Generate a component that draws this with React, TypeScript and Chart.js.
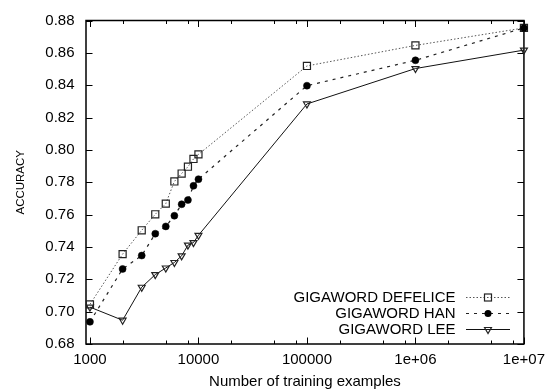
import React, { useEffect, useRef } from 'react';
import { Chart, registerables } from 'chart.js';

Chart.register(...registerables);

// ---- data ----
const trainingSizes = [1000, 2000, 3000, 4000, 5000, 6000, 7000, 8000, 9000, 10000, 100000, 1000000, 10000000];
const defeliceAcc = [0.7045, 0.7356, 0.7503, 0.7602, 0.7668, 0.7805, 0.7854, 0.7896, 0.7944, 0.7972, 0.8519, 0.8646, 0.8754];
const hanAcc = [0.6937, 0.7264, 0.7347, 0.7482, 0.7527, 0.7593, 0.7664, 0.769, 0.7778, 0.7819, 0.8397, 0.8554, 0.8754];
const leeAcc = [0.7028, 0.6947, 0.7151, 0.7229, 0.727, 0.7304, 0.7345, 0.7411, 0.7427, 0.7472, 0.8284, 0.8503, 0.8617];
const seriesNames = ['GIGAWORD DEFELICE', 'GIGAWORD HAN', 'GIGAWORD LEE'];
const xMajorTicks = [1000, 10000, 100000, 1000000, 10000000];
const xTickLabels = ['1000', '10000', '100000', '1e+06', '1e+07'];
const xMinorMultipliers = [2, 5, 8];
const yTicks = [0.68, 0.7, 0.72, 0.74, 0.76, 0.78, 0.8, 0.82, 0.84, 0.86, 0.88];
const xTitle = 'Number of training examples';
const yTitle = 'ACCURACY';

const FONT = '"Liberation Sans", Arial, Helvetica, sans-serif';

type Kind = 'square' | 'circle' | 'tri';

function drawMarker(ctx: CanvasRenderingContext2D, kind: Kind, x: number, y: number) {
  ctx.save();
  ctx.setLineDash([]);
  if (kind === 'square') {
    ctx.strokeStyle = '#222';
    ctx.lineWidth = 1.2;
    ctx.strokeRect(x - 3.5, y - 3.5, 7, 7);
  } else if (kind === 'circle') {
    ctx.fillStyle = '#000';
    ctx.beginPath();
    ctx.arc(x, y, 3.5, 0, Math.PI * 2);
    ctx.fill();
  } else {
    const r = 4;
    ctx.strokeStyle = '#222';
    ctx.lineWidth = 1.2;
    ctx.beginPath();
    ctx.moveTo(x, y + r);
    ctx.lineTo(x - r * 0.866, y - r * 0.5);
    ctx.lineTo(x + r * 0.866, y - r * 0.5);
    ctx.closePath();
    ctx.stroke();
  }
  ctx.restore();
}

const framePlugin = {
  id: 'gnuplotFrame',
  beforeDatasetsDraw(chart: any) {
    const { ctx, chartArea } = chart;
    const { left, right, top, bottom } = chartArea;
    const xs = chart.scales.x;
    const ys = chart.scales.y;
    ctx.save();
    ctx.strokeStyle = '#000';
    ctx.lineWidth = 1;
    ctx.beginPath();
    // x ticks (major + minor), bottom and top, inward
    xMajorTicks.forEach((v) => {
      const px = Math.round(xs.getPixelForValue(v)) + 0.5;
      ctx.moveTo(px, bottom);
      ctx.lineTo(px, bottom - 6.5);
      ctx.moveTo(px, top);
      ctx.lineTo(px, top + 6.5);
      if (v < 10000000) {
        xMinorMultipliers.forEach((m) => {
          const p = Math.round(xs.getPixelForValue(v * m)) + 0.5;
          if (p > right) return;
          ctx.moveTo(p, bottom);
          ctx.lineTo(p, bottom - 3.5);
          ctx.moveTo(p, top);
          ctx.lineTo(p, top + 3.5);
        });
      }
    });
    yTicks.forEach((v) => {
      const py = Math.round(ys.getPixelForValue(v)) + 0.5;
      ctx.moveTo(left, py);
      ctx.lineTo(left + 6.5, py);
      ctx.moveTo(right, py);
      ctx.lineTo(right - 6.5, py);
    });
    ctx.stroke();
    ctx.lineWidth = 1.5;
    ctx.strokeRect(left, top, right - left, bottom - top);
    ctx.restore();
  },
  afterDatasetsDraw(chart: any) {
    const { ctx } = chart;
    const rows = [297.5, 313.5, 329.5];
    const kinds: Kind[] = ['square', 'circle', 'tri'];
    const textRight = 455.5;
    const lineX0 = 466;
    const lineX1 = 510;
    const markX = 488;
    ctx.save();
    ctx.font = `15px ${FONT}`;
    ctx.fillStyle = '#000';
    ctx.textAlign = 'right';
    ctx.textBaseline = 'middle';
    chart.data.datasets.forEach((ds: any, i: number) => {
      const y = rows[i];
      ctx.fillText(seriesNames[i], textRight, y + 0.5);
      ctx.save();
      ctx.strokeStyle = ds.borderColor;
      ctx.lineWidth = ds.borderWidth;
      ctx.setLineDash(ds.borderDash || []);
      ctx.beginPath();
      ctx.moveTo(lineX0, y);
      ctx.lineTo(lineX1, y);
      ctx.stroke();
      ctx.restore();
      drawMarker(ctx, kinds[i], markX, y);
    });
    ctx.restore();
  },
};

export default function App() {
  const canvasRef = useRef<HTMLCanvasElement | null>(null);

  useEffect(() => {
    const canvas = canvasRef.current;
    if (!canvas) return;
    const toPts = (vals: number[]) => trainingSizes.map((x, i) => ({ x, y: vals[i] }));

    const chart = new Chart(canvas, {
      type: 'line',
      data: {
        datasets: [
          {
            label: seriesNames[0],
            data: toPts(defeliceAcc),
            borderColor: '#555',
            borderWidth: 1,
            borderDash: [1.5, 2],
            pointStyle: 'rect',
            pointRadius: 5,
            pointBorderColor: '#222',
            pointBackgroundColor: 'rgba(0,0,0,0)',
            pointBorderWidth: 1.2,
            tension: 0,
            fill: false,
            clip: false,
            order: 2,
          },
          {
            label: seriesNames[1],
            data: toPts(hanAcc),
            borderColor: '#222',
            borderWidth: 1.2,
            borderDash: [3, 5],
            pointStyle: 'circle',
            pointRadius: 3.5,
            pointBorderColor: '#000',
            pointBackgroundColor: '#000',
            pointBorderWidth: 0.5,
            tension: 0,
            fill: false,
            clip: false,
            order: 0,
          },
          {
            label: seriesNames[2],
            data: toPts(leeAcc),
            borderColor: '#111',
            borderWidth: 1,
            pointStyle: 'triangle',
            pointRotation: 180,
            pointRadius: 4,
            pointBorderColor: '#222',
            pointBackgroundColor: 'rgba(255,255,255,0)',
            pointBorderWidth: 1.2,
            tension: 0,
            fill: false,
            clip: false,
            order: 1,
          },
        ],
      },
      options: {
        responsive: false,
        animation: false,
        devicePixelRatio: 1,
        layout: { padding: { top: 17, right: 22, left: 0, bottom: 0 } },
        plugins: { legend: { display: false }, tooltip: { enabled: false } },
        font: { family: FONT },
        scales: {
          x: {
            type: 'logarithmic',
            min: 919.6,
            max: 10000000,
            afterBuildTicks: (s: any) => {
              s.ticks = xMajorTicks.map((v) => ({ value: v }));
            },
            afterFit: (s: any) => {
              s.height = 48;
            },
            grid: { display: false, drawTicks: false },
            border: { display: false },
            ticks: {
              autoSkip: false,
              maxRotation: 0,
              padding: 7,
              color: '#000',
              font: { family: FONT, size: 15 },
              callback: (_v: any, i: number) => xTickLabels[i],
            },
            title: {
              display: true,
              text: xTitle,
              color: '#000',
              font: { family: FONT, size: 15 },
              padding: { top: 0, bottom: 1 },
            },
          },
          y: {
            type: 'linear',
            min: 0.68,
            max: 0.88,
            afterBuildTicks: (s: any) => {
              s.ticks = yTicks.map((v) => ({ value: v }));
            },
            afterFit: (s: any) => {
              s.width = 86;
            },
            grid: { display: false, drawTicks: false },
            border: { display: false },
            ticks: {
              padding: 11.5,
              color: '#000',
              font: { family: FONT, size: 15 },
              callback: (v: any) => Number(v).toFixed(2),
            },
            title: {
              display: true,
              text: yTitle,
              color: '#000',
              font: { family: FONT, size: 11.5 },
              padding: { top: 14, bottom: 0 },
            },
          },
        },
      } as any,
      plugins: [framePlugin],
    });
    return () => chart.destroy();
  }, []);

  return (
    <div style={{ position: 'fixed', left: 0, top: 0, width: 552, height: 392, background: '#fff' }}>
      <canvas ref={canvasRef} width={552} height={392} style={{ display: 'block', width: 552, height: 392 }} />
    </div>
  );
}
